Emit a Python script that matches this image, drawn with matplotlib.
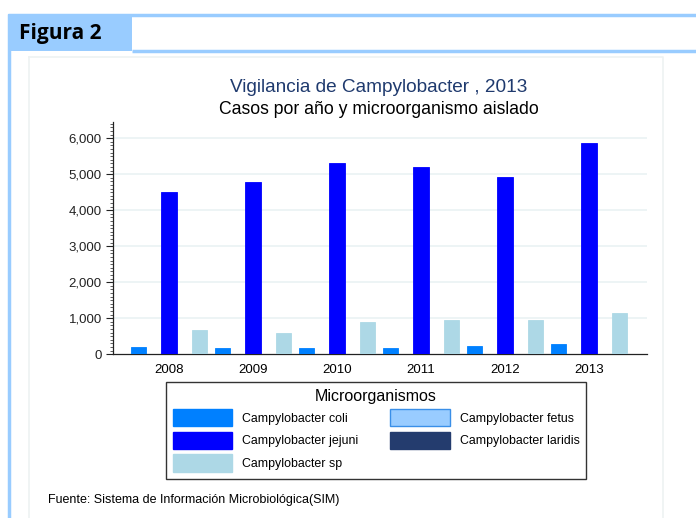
import matplotlib
matplotlib.use("Agg")
import matplotlib.pyplot as plt
import numpy as np
from matplotlib.patches import Rectangle, Patch
from matplotlib.ticker import FuncFormatter, MultipleLocator

plt.rcParams['font.family'] = ['Liberation Sans', 'DejaVu Sans']

years = ["2008", "2009", "2010", "2011", "2012", "2013"]
series_names = ["Campylobacter coli", "Campylobacter fetus", "Campylobacter jejuni",
                "Campylobacter laridis", "Campylobacter sp"]
coli = [195, 185, 165, 175, 240, 285]
fetus = [15, 15, 15, 15, 15, 15]
jejuni = [4515, 4795, 5305, 5210, 4925, 5870]
laridis = [12, 12, 12, 12, 12, 12]
sp = [665, 585, 900, 950, 960, 1150]
values = [coli, fetus, jejuni, laridis, sp]
colors = ["#0080FF", "#99CCFF", "#0000FF", "#243C6E", "#ADD8E6"]
edgecolors = ["#0080FF", "#3A8FE8", "#0000FF", "#243C6E", "#ADD8E6"]

W, H = 696, 518
fig = plt.figure(figsize=(W / 100, H / 100), dpi=100)

# background frame axes in pixel coordinates
bg = fig.add_axes([0, 0, 1, 1])
bg.set_xlim(0, W)
bg.set_ylim(H, 0)
bg.axis('off')
lb = "#99CCFF"
# header tab
bg.add_patch(Rectangle((8, 14), 124, 37, facecolor=lb, edgecolor='none'))
bg.plot([8, W], [15, 15], color=lb, lw=2.5, solid_capstyle='butt')
bg.plot([132, W], [51, 51], color=lb, lw=2.5, solid_capstyle='butt')
bg.plot([9, 9], [14, H], color=lb, lw=2.5, solid_capstyle='butt')
bg.text(19, 33, "Figura 2", fontsize=15, fontweight='bold', family=['Open Sans', 'DejaVu Sans'],
        va='center', ha='left', color='black')
# inner panel
bg.plot([29, 663, 663], [57, 57, H], color="#EEF2F2", lw=1.2)
bg.plot([29, 29], [57, H], color="#EEF2F2", lw=1.2)

# titles
fig.text(379 / W, 1 - 87 / H, "Vigilancia de Campylobacter , 2013", ha='center', va='center',
         fontsize=13.7, color="#1F3A6E")
fig.text(379 / W, 1 - 110 / H, "Casos por año y microorganismo aislado", ha='center', va='center',
         fontsize=12.7, color="black")

ax = fig.add_axes([113 / W, 1 - 354.3 / H, (647 - 113) / W, (354.3 - 122) / H])
ax.patch.set_alpha(0)
x = np.arange(len(years))
bw = 0.18
for i, (vals, c, ec) in enumerate(zip(values, colors, edgecolors)):
    ax.bar(x + (i - 2) * bw, vals, width=bw, color=c, edgecolor=ec, linewidth=0.6, zorder=3)

ax.set_xlim(-0.667, 5.69)
ax.set_ylim(0, 6450)
ax.set_yticks(np.arange(0, 6001, 1000))
ax.yaxis.set_major_formatter(FuncFormatter(lambda v, p: f"{int(v):,}"))
ax.yaxis.set_minor_locator(MultipleLocator(100))
ax.tick_params(axis='y', which='major', length=5, width=0.8, labelsize=9.5, pad=3, colors='#222222')
ax.tick_params(axis='y', which='minor', length=2.5, width=0.6, colors='#444444')
ax.set_xticks(x)
ax.set_xticklabels(years)
ax.tick_params(axis='x', length=0, labelsize=9.5, pad=7)
for v in range(1000, 6001, 1000):
    ax.axhline(v, color="#EAF2F3", lw=1.2, zorder=0)
ax.spines['top'].set_visible(False)
ax.spines['right'].set_visible(False)
ax.spines['left'].set_color('#222222')
ax.spines['bottom'].set_color('#222222')
ax.spines['left'].set_linewidth(0.9)
ax.spines['bottom'].set_linewidth(0.9)

handles = [Patch(facecolor=colors[i], edgecolor=edgecolors[i], label=series_names[i])
           for i in [0, 2, 4, 1, 3]]
leg = fig.legend(handles=handles, ncol=2, loc='upper left',
                 bbox_to_anchor=(166 / W, 1 - 382 / H),
                 title="Microorganismos", title_fontsize=11.5, fontsize=8.9,
                 fancybox=False, frameon=True, edgecolor='black', handlelength=4.8,
                 handleheight=1.8, handletextpad=0.8, labelspacing=0.42, borderpad=0.55,
                 borderaxespad=0, columnspacing=2.6)
leg.get_frame().set_linewidth(1.0)

fig.text(48 / W, 1 - 500 / H, "Fuente: Sistema de Información Microbiológica(SIM)", fontsize=9,
         ha='left', va='center')

fig.savefig("out.png", dpi=100)
